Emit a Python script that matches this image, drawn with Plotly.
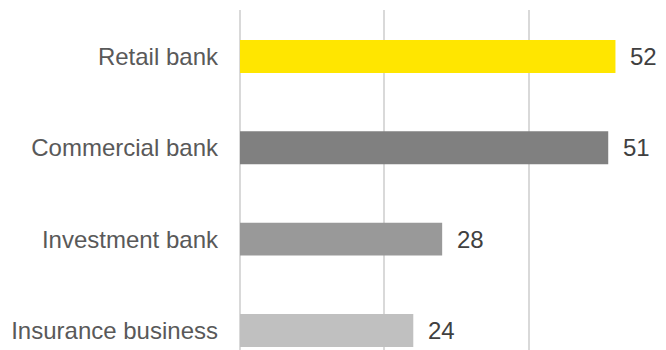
import plotly.graph_objects as go

# Business lines, top to bottom, with their scores
categories = ["Retail bank", "Commercial bank", "Investment bank", "Insurance business"]
values = [52, 51, 28, 24]
bar_colors = ["#FFE600", "#808080", "#999999", "#C0C0C0"]

fig = go.Figure(
    go.Bar(
        x=values,
        y=categories,
        orientation="h",
        marker=dict(color=bar_colors, line=dict(width=0)),
        width=0.36,
        hoverinfo="skip",
    )
)

# Value labels just past the end of each bar
for cat, val in zip(categories, values):
    fig.add_annotation(
        x=val, y=cat, text=str(val), showarrow=False,
        xanchor="left", yanchor="middle", xshift=13,
        font=dict(family="Liberation Sans, Arial, sans-serif", size=24, color="#404040"),
    )

fig.update_layout(
    width=666, height=350,
    margin=dict(l=240, r=0, t=10, b=0),
    paper_bgcolor="white", plot_bgcolor="white",
    showlegend=False,
    xaxis=dict(
        range=[0, 59], dtick=20, showticklabels=False,
        showgrid=True, gridcolor="#D9D9D9", gridwidth=2,
        zeroline=True, zerolinecolor="#D9D9D9", zerolinewidth=2,
        showline=False, fixedrange=True,
    ),
    yaxis=dict(
        categoryorder="array", categoryarray=categories,
        range=[3.214, -0.509],
        showgrid=False, zeroline=False, showline=False,
        ticks="", ticklabelstandoff=21,
        tickfont=dict(family="Liberation Sans, Arial, sans-serif", size=24, color="#595959"),
        fixedrange=True,
    ),
)

fig.write_html("out.html")
